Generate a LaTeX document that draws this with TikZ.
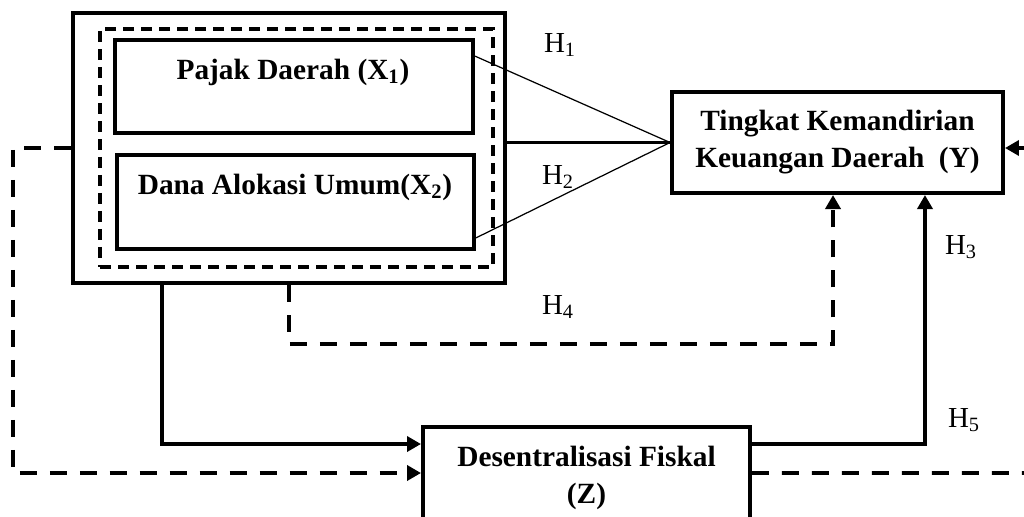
\documentclass[tikz,border=0pt]{standalone}
\usepackage{fontspec}
\setmainfont{Liberation Serif}
\usetikzlibrary{arrows.meta,positioning}
\tikzset{
  >={Triangle[length=2.8mm,width=3mm]},
  outer box/.style={draw,line width=2.5pt,minimum width=#1},
  inner box/.style={draw,line width=2.2pt,minimum width=#1},
  var box/.style={draw,line width=2.3pt,minimum width=#1,align=center,
    font=\fontsize{16.7}{21}\selectfont\bfseries},
  var text/.style={font=\fontsize{16.7}{21}\selectfont\bfseries},
  hyp/.style={font=\fontsize{16.5}{20}\selectfont},
  link/.style={line width=2.2pt},
  thin link/.style={line width=0.7pt},
  dash link/.style={line width=2.2pt,dash pattern=on 0.34cm off 0.26cm},
}
\begin{document}
\begin{tikzpicture}[x=0.02cm,y=-0.02cm]
  \useasboundingbox (0,0) rectangle (1024,517);
  % independent variables
  \node[outer box=8.64cm,minimum height=5.4cm] (outer) at (289,148) {};
  \node[draw,line width=2pt,dash pattern=on 0.22cm off 0.14cm,
    minimum width=7.86cm,minimum height=4.76cm] (group) at (296.5,148) {};
  \node[inner box=7.16cm,minimum height=1.86cm] (x1) at (294,86.5) {};
  \node[var text] (t1) at (293,72) {Pajak Daerah (X\textsubscript{1})};
  \node[inner box=7.14cm,minimum height=1.88cm] (x2) at (295.5,202) {};
  \node[var text] (t2) at (295,187) {Dana Alokasi Umum(X\textsubscript{2})};
  % dependent and intervening variables
  \node[var box=6.62cm,minimum height=2.02cm] (y) at (837.5,142.5)
    {Tingkat Kemandirian\\Keuangan Daerah~~(Y)};
  \node[var box=6.54cm,minimum height=2.04cm] (z) at (586.5,478)
    {Desentralisasi Fiskal\\(Z)};
  \coordinate (rin) at (1030,148);
  \coordinate (rout) at (1030,473);
  % connectors
  \draw[thin link] ([yshift=-0.36cm]x1.north east) -- (y.west);
  \draw[thin link] ([yshift=0.26cm]x2.south east) -- (y.west);
  \draw[link] (outer.east |- y.west) -- (y.west);
  \draw[link,->] (rin) -- ([yshift=-0.11cm]y.east);
  \draw[link,->] ([xshift=-2.54cm]outer.south) |- ([yshift=0.68cm]z.west);
  \draw[dash link,->] (outer.south) -- ++(0,59) -| ([xshift=-0.09cm]y.south);
  \draw[dash link,->] (outer.west) -- ++(-58,0) |- ([yshift=0.1cm]z.west);
  \draw[link,->] ([yshift=0.68cm]z.east) -| ([xshift=1.75cm]y.south);
  \draw[dash link] ([yshift=0.1cm]z.east) -- (rout);
  % hypotheses
  \node[hyp] (h1) at (560,45) {H\textsubscript{1}};
  \node[hyp] (h2) at (558,177) {H\textsubscript{2}};
  \node[hyp] (h3) at (961,247) {H\textsubscript{3}};
  \node[hyp] (h4) at (558,307) {H\textsubscript{4}};
  \node[hyp] (h5) at (964,420) {H\textsubscript{5}};
\end{tikzpicture}
\end{document}
